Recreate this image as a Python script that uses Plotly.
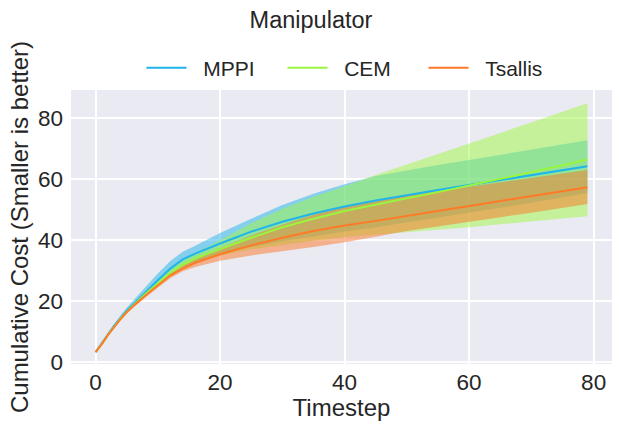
import plotly.graph_objects as go

timesteps = [0, 1, 2, 3, 4, 5, 6, 8, 10, 12, 14, 16, 18, 20, 25, 30, 35, 40, 45, 50, 55, 60, 65, 70, 75, 79]

mppi_mean = [3.4, 6.1, 9.2, 12.1, 14.6, 16.9, 18.9, 23.0, 26.9, 30.7, 33.7, 35.6, 37.3, 38.9, 42.8, 46.0,
             48.7, 51.0, 53.0, 54.8, 56.4, 58.0, 59.6, 61.2, 62.8, 64.2]
mppi_upper = [3.5, 6.3, 9.6, 12.7, 15.4, 17.9, 20.2, 24.6, 29.1, 33.2, 36.2, 38.2, 40.3, 42.3, 47.0, 51.5,
              55.2, 58.3, 61.0, 62.9, 64.6, 66.2, 67.9, 69.6, 71.3, 72.7]
mppi_lower = [3.3, 5.9, 8.9, 11.7, 14.1, 16.3, 18.2, 22.0, 25.2, 28.5, 31.0, 32.8, 34.3, 35.6, 37.8, 39.6,
              41.3, 42.8, 44.2, 45.7, 47.3, 49.0, 50.6, 52.2, 53.9, 55.4]

cem_mean = [3.4, 6.0, 9.1, 11.9, 14.3, 16.5, 18.6, 22.4, 25.8, 29.3, 32.0, 34.0, 35.6, 37.1, 40.8, 44.2,
            47.0, 49.5, 51.7, 53.7, 55.7, 57.8, 60.0, 62.2, 64.5, 66.4]
cem_upper = [3.5, 6.1, 9.3, 12.2, 14.8, 17.1, 19.3, 23.3, 27.0, 30.5, 33.5, 35.6, 37.8, 40.0, 45.5, 50.3,
             54.2, 57.6, 61.3, 64.7, 68.2, 71.6, 75.1, 78.5, 82.0, 84.8]
cem_lower = [3.3, 5.9, 8.9, 11.6, 13.9, 16.0, 17.9, 21.6, 24.8, 28.0, 30.5, 32.3, 33.8, 35.0, 37.0, 38.5,
             39.8, 41.0, 41.8, 42.5, 43.4, 44.2, 45.2, 46.2, 47.1, 47.8]

tsallis_mean = [3.4, 6.0, 9.0, 11.8, 14.2, 16.4, 18.4, 21.9, 25.2, 28.5, 30.7, 32.6, 34.0, 35.4, 38.3, 40.8,
                43.0, 44.8, 46.3, 48.0, 49.6, 51.2, 52.8, 54.5, 56.0, 57.3]
tsallis_upper = [3.5, 6.1, 9.2, 12.0, 14.5, 16.8, 18.8, 22.4, 25.8, 29.2, 31.8, 34.0, 35.8, 37.5, 41.5, 45.0,
                 48.3, 51.0, 53.0, 54.6, 56.0, 57.4, 58.8, 60.2, 61.7, 62.9]
tsallis_lower = [3.3, 5.9, 8.8, 11.5, 13.9, 16.0, 17.9, 21.2, 24.4, 27.5, 29.8, 31.2, 32.3, 33.3, 35.0, 36.4,
                 37.8, 39.3, 41.1, 43.0, 44.5, 46.0, 47.5, 49.0, 50.5, 51.8]

x_ticks = [0, 20, 40, 60, 80]
y_ticks = [0, 20, 40, 60, 80]

series = [
    ("MPPI", mppi_mean, mppi_upper, mppi_lower, "#1fb4ea", "rgba(31,180,234,0.5)"),
    ("CEM", cem_mean, cem_upper, cem_lower, "#9af53e", "rgba(160,248,66,0.5)"),
    ("Tsallis", tsallis_mean, tsallis_upper, tsallis_lower, "#ff7a26", "rgba(250,118,38,0.5)"),
]

TEXT = "#262626"
fig = go.Figure()

# shaded bands first, in drawing order
for name, mean, upper, lower, color, fill in series:
    fig.add_trace(go.Scatter(
        x=timesteps + timesteps[::-1],
        y=upper + lower[::-1],
        fill="toself",
        fillcolor=fill,
        line=dict(width=0, color="rgba(0,0,0,0)"),
        mode="lines",
        hoverinfo="skip",
        showlegend=False,
    ))

# mean lines on top
for name, mean, upper, lower, color, fill in series:
    fig.add_trace(go.Scatter(
        x=timesteps, y=mean, mode="lines", name="\u00a0\u00a0" + name,
        line=dict(color=color, width=2),
    ))

fig.update_xaxes(
    title_text="Timestep",
    title_font=dict(size=24, color=TEXT),
    title_standoff=2,
    tickvals=x_ticks,
    range=[-3.95, 82.95],
    showgrid=True, gridcolor="white", gridwidth=1.5,
    zeroline=False, showline=False,
    tickfont=dict(size=22.5, color=TEXT),
    ticks="", ticklabelstandoff=2,
    automargin=False,
)
fig.update_yaxes(
    title_text="Cumulative Cost (Smaller is better)",
    title_font=dict(size=24, color=TEXT),
    title_standoff=2,
    tickvals=y_ticks,
    range=[-0.5, 89.1],
    showgrid=True, gridcolor="white", gridwidth=1.5,
    zeroline=False, showline=False,
    tickfont=dict(size=22.5, color=TEXT),
    ticks="", ticklabelstandoff=7,
    automargin=False,
)

fig.update_layout(
    width=622,
    height=431,
    font=dict(family="Liberation Sans, Arial, sans-serif", color=TEXT),
    title=dict(text="Manipulator", x=0.5, xanchor="center", xref="container",
               y=1 - 20 / 431, yanchor="middle", yref="container",
               font=dict(size=23.5, color=TEXT)),
    plot_bgcolor="#eaeaf2",
    paper_bgcolor="white",
    margin=dict(l=71, r=10, t=90, b=67, autoexpand=False),
    legend=dict(
        orientation="h",
        xref="container", x=353 / 622, xanchor="center",
        yref="container", y=1 - 68 / 431, yanchor="middle",
        font=dict(size=21, color=TEXT),
        bgcolor="rgba(0,0,0,0)",
        entrywidth=86,
        itemwidth=40,
    ),
)

# drop the browser's default body margin so the figure sits at the page corner
fig.write_html("out.html", config={"displayModeBar": False},
               post_script="document.body.style.margin='0';")
